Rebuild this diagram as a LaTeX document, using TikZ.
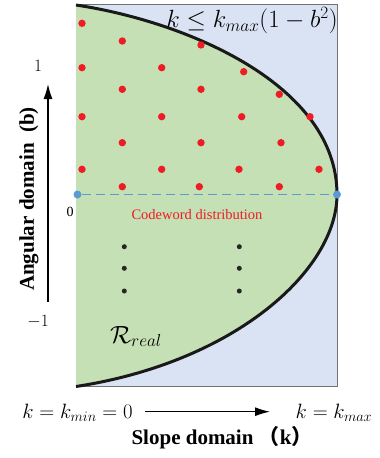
\documentclass[tikz,border=0pt]{standalone}
\usepackage{fontspec}
\setmainfont{Liberation Serif}
\newfontfamily\cjkfont{Noto Sans CJK SC}
\usetikzlibrary{arrows.meta}
\definecolor{planeblue}{HTML}{DAE3F3}
\definecolor{realgreen}{HTML}{C5E0B4}
\definecolor{codered}{HTML}{EE1C25}
\definecolor{zeroblue}{HTML}{5B9BD5}
\tikzset{
  codeword/.style={circle, fill=codered, inner sep=0pt, minimum size=7.4pt},
  ellipsisdot/.style={circle, fill=black!85, inner sep=0pt, minimum size=5pt},
  zerodot/.style={circle, fill=zeroblue, inner sep=0pt, minimum size=8pt},
  bigmath/.style={font=\fontsize{21}{24}\selectfont},
  axisname/.style={font=\bfseries\fontsize{21}{24}\selectfont},
}
\begin{document}
\begin{tikzpicture}[x=1pt, y=-1pt]
	\useasboundingbox (0,0) rectangle (380,458);
	% the (k,b) plane
	\fill[planeblue] (76,4) rectangle (337,386);
	\draw[black!55, line width=0.8pt] (76,4) -- (337,4) -- (337,386) -- (76,386);
	% real region, k <= kmax(1-b^2)
	\coordinate (btop) at (76,5);
	\coordinate (vertex) at (337,194.5);
	\coordinate (bbot) at (76,386.5);
	\fill[realgreen] (btop) .. controls (186,21.5) and (337,84.5) .. (vertex)
		.. controls (337,269.5) and (236,362) .. (bbot) -- cycle;
	\draw[line width=3pt, black!90] (btop) .. controls (186,21.5) and (337,84.5) .. (vertex)
		.. controls (337,269.5) and (236,362) .. (bbot);
	%b = 0
	\node[zerodot] (zl) at (77.5,194.5) {};
	\node[zerodot] (zr) at (vertex) {};
	\draw[zeroblue, line width=1.5pt, dash pattern=on 9pt off 5pt] (zl) -- (zr);
	%codewords
	\foreach \p [count=\i] in {(82,23.3), (122.3,41), (201,45), (82,67.7), (161.7,67.7), (243.7,71.7),
		(122.3,89.3), (201,89.3), (279.3,94.3), (82,116.7), (161.7,116.7), (241.7,116.7), (310,116.7),
		(122.3,142.7), (201,142.7), (281,142.7), (82,169.3), (161.7,169.3), (239,169.3), (319,169.3),
		(122.3,186.7), (199.3,186.7), (279.3,186.7)}
		\node[codeword] (cw\i) at \p {};
	\node[text=codered, font=\fontsize{14.5}{17}\selectfont, anchor=base] (cwname) at (197,219.5) {Codeword distribution};
	%vertical dots
	\foreach \y [count=\i] in {246.7, 268.3, 291}
	{
		\node[ellipsisdot] (vl\i) at (124.3,\y) {};
		\node[ellipsisdot] (vr\i) at (239.3,\y) {};
	}
	\node[font=\fontsize{24}{27}\selectfont, anchor=base] (rreal) at (136,343) {$\mathcal{R}_{real}$};
	\node[font=\fontsize{23}{26}\selectfont] (bound) at (252,21) {$k \le k_{max}(1-b^2)$};
	% angular axis
	\node[font=\fontsize{17}{20}\selectfont] (bone) at (38,66) {$1$};
	\node[font=\fontsize{17}{20}\selectfont] (bmone) at (38,322) {$-1$};
	\node[font=\fontsize{14}{16}\selectfont] (bzero) at (70,212) {0};
	\node[axisname, rotate=90] (bname) at (29,199) {Angular domain\ \ (b)};
	\coordinate (bfoot) at (48,302);
	\coordinate (btip) at (48,84);
	\draw[line width=1.3pt, -{Latex[length=15pt, width=9pt]}] (bfoot) -- (btip);
	% slope axis
	\node[bigmath, anchor=base] (kmin) at (77.5,418) {$k = k_{min} = 0$};
	\node[bigmath, anchor=base] (kmax) at (334,418) {$k = k_{max}$};
	\coordinate (kfoot) at (145,411.7);
	\coordinate (ktip) at (270,411.7);
	\draw[line width=1.3pt, -{Latex[length=15pt, width=9pt]}] (kfoot) -- (ktip);
	\node[axisname, anchor=base] (kname) at (222,444) {Slope domain\ {\cjkfont （}k{\cjkfont ）}};
\end{tikzpicture}
\end{document}
